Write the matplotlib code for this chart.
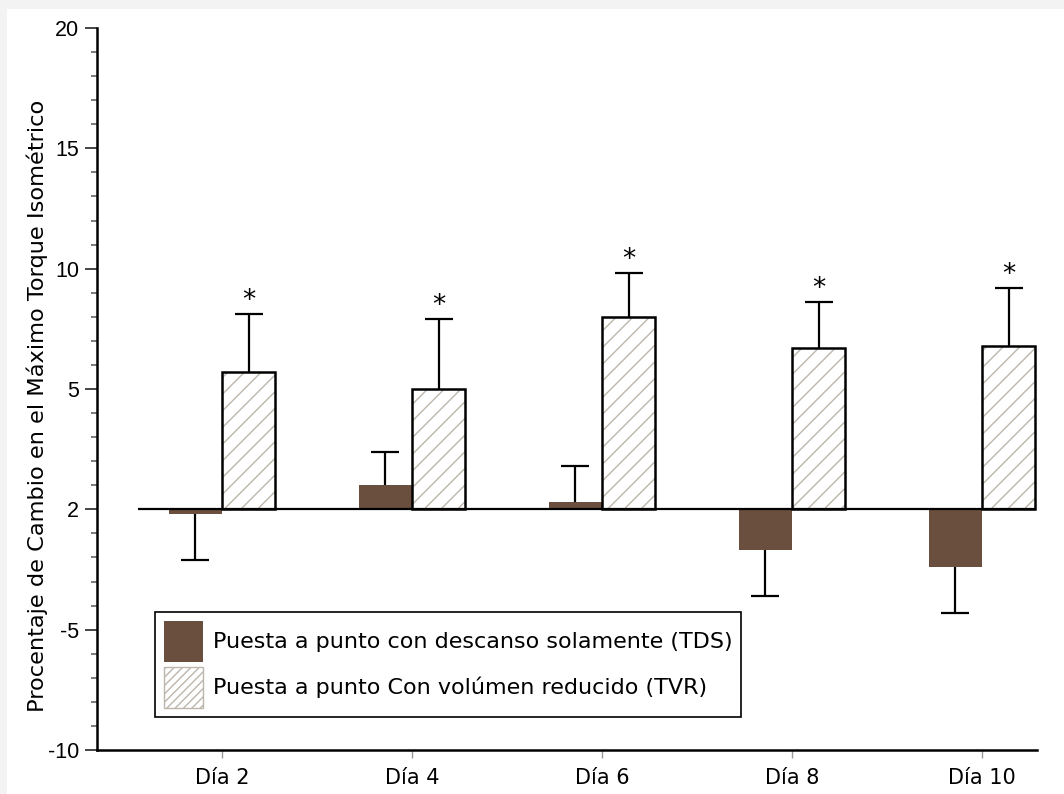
import numpy as np
import matplotlib.pyplot as plt
import matplotlib.patches as mpatches
from matplotlib.ticker import MultipleLocator

# datos
dias = ['Día 2', 'Día 4', 'Día 6', 'Día 8', 'Día 10']
tds = [-0.2, 1.0, 0.3, -1.7, -2.4]      # descanso solamente
tds_err = [1.9, 1.4, 1.5, 1.9, 1.9]
tvr = [5.7, 5.0, 8.0, 6.7, 6.8]         # volumen reducido
tvr_err = [2.4, 2.9, 1.8, 1.9, 2.4]
yticks = [-10, -5, 0, 5, 10, 15, 20]
ylabels = ['-10', '-5', '2', '5', '10', '15', '20']  # el 0 aparece como "2" en el original

marron = '#6a4f3e'
gris_rayas = '#bdb6ad'
w = 0.28

fig = plt.figure(figsize=(10.64, 7.94), dpi=100, facecolor='#f3f3f3')
fig.patches.append(mpatches.Rectangle((7 / 1064, 0), 1, 1 - 9 / 794, transform=fig.transFigure,
                                      facecolor='white', edgecolor='none', zorder=-1))
ax = fig.add_axes([97 / 1064, 44 / 794, 940 / 1064, 722 / 794])
ax.set_facecolor('none')

x = np.arange(len(dias))

# barras TDS, error solo hacia el lado de la barra
fin_tds = [v - e if v < 0 else v + e for v, e in zip(tds, tds_err)]
ax.bar(x - w, tds, w, align='edge', color=marron, edgecolor='none', zorder=2)
ax.vlines(x - w / 2, tds, fin_tds, color='black', linewidth=1.6, zorder=1)
ax.plot(x - w / 2, fin_tds, linestyle='none', marker='_', markersize=20, markeredgewidth=1.6,
        color='black', zorder=1)

# barras TVR rayadas
fin_tvr = [v + e for v, e in zip(tvr, tvr_err)]
ax.bar(x, tvr, w, align='edge', color='white', edgecolor=gris_rayas, hatch='//', linewidth=0, zorder=2)
ax.bar(x, tvr, w, align='edge', fill=False, edgecolor='black', linewidth=1.8, zorder=3)
ax.vlines(x + w / 2, tvr, fin_tvr, color='black', linewidth=1.6, zorder=1)
ax.plot(x + w / 2, fin_tvr, linestyle='none', marker='_', markersize=20, markeredgewidth=1.6,
        color='black', zorder=1)

# asteriscos de significancia
for xi, f in zip(x, fin_tvr):
    ax.annotate('*', (xi + w / 2, f), xytext=(0, 0), textcoords='offset points',
                ha='center', va='bottom', fontsize=19, family='DejaVu Sans')

# linea del cero
ax.hlines(0, x[0] - 0.44, x[-1] + w, color='black', linewidth=1.6, zorder=4)

ax.set_xlim(-0.658, 4.29)
ax.set_ylim(-10, 20)
ax.set_yticks(yticks)
ax.set_yticklabels(ylabels, family='Liberation Sans', fontsize=15.5)
ax.yaxis.set_minor_locator(MultipleLocator(1))
ax.tick_params(axis='y', which='major', length=9, width=1.4, color='#444444', pad=4)
ax.tick_params(axis='y', which='minor', length=4, width=1.2, color='#666666')
ax.set_xticks(x)
ax.set_xticklabels(dias, family='DejaVu Sans', fontsize=15)
ax.tick_params(axis='x', length=6, width=1, color='#999999', pad=7)

for s in ['top', 'right']:
    ax.spines[s].set_visible(False)
ax.spines['left'].set_linewidth(1.8)
ax.spines['bottom'].set_linewidth(1.8)

ax.set_ylabel('Procentaje de Cambio en el Máximo Torque Isométrico', family='DejaVu Sans', fontsize=16.2)
ax.yaxis.set_label_coords(-0.052, 0.476)

h1 = mpatches.Patch(facecolor=marron, edgecolor='none')
h2 = mpatches.Patch(facecolor='white', edgecolor=gris_rayas, hatch='////', linewidth=1)
leg = ax.legend([h1, h2], ['Puesta a punto con descanso solamente (TDS)',
                           'Puesta a punto Con volúmen reducido (TVR)'],
                loc='upper left', bbox_to_anchor=(155 / 1064, 1 - 612 / 794), bbox_transform=fig.transFigure,
                borderaxespad=0, fancybox=False, edgecolor='black', framealpha=1,
                prop={'family': 'DejaVu Sans', 'size': 16}, handlelength=1.75, handleheight=2.45,
                handletextpad=0.45, labelspacing=0.25, borderpad=0.4)
leg.get_frame().set_linewidth(1.2)

plt.savefig('out.png', dpi=100, facecolor=fig.get_facecolor())
